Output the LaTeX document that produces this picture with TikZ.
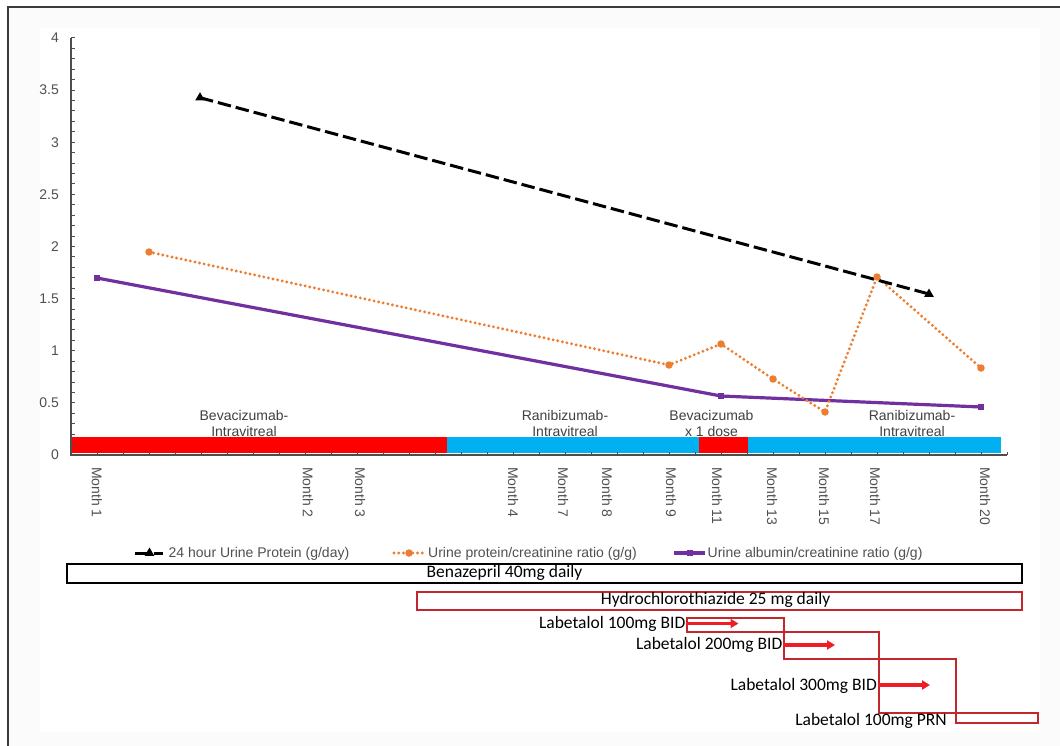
\documentclass[tikz,border=0pt]{standalone}
\usepackage{fontspec}
\setmainfont{Liberation Sans}
\newfontfamily\medfont{Carlito}
\usetikzlibrary{shapes.geometric,arrows.meta}
\definecolor{axisgray}{HTML}{4D4D4D}
\definecolor{txtgray}{HTML}{505050}
\definecolor{lbldark}{HTML}{404040}
\definecolor{barred}{HTML}{FF0000}
\definecolor{barblue}{HTML}{00B0F0}
\definecolor{orng}{HTML}{ED7D31}
\definecolor{purp}{HTML}{7030A0}
\definecolor{medred}{HTML}{C1272D}
\definecolor{arrred}{HTML}{EE1C25}
\definecolor{framegray}{HTML}{3A3A3A}
\begin{document}
\begin{tikzpicture}[x=1pt,y=-1pt,
  lbl/.style={font=\fontsize{14}{16.7}\selectfont, text=txtgray, inner sep=0pt},
  barlbl/.style={font=\fontsize{14}{16.7}\selectfont, text=lbldark, align=center, inner sep=0pt},
  medtxt/.style={font=\medfont\fontsize{17.5}{20}\selectfont, text=black, inner sep=0pt},
  medbox/.style={draw=medred, line width=1.7pt, inner sep=0pt, anchor=north west},
  medarrow/.style={draw=arrred, line width=3.5pt, -{Triangle[length=8pt,width=9pt]}},
  trimk/.style={regular polygon, regular polygon sides=3, fill=black, inner sep=0pt, minimum size=11pt},
  dotmk/.style={circle, fill=orng, inner sep=0pt, minimum size=7.5pt},
  sqmk/.style={rectangle, fill=purp, inner sep=0pt, minimum size=6.5pt},
  serA/.style={draw=black, line width=3pt, dash pattern=on 13.5pt off 5pt},
  serB/.style={draw=orng, line width=3.2pt, line cap=round, dash pattern=on 0pt off 4.7pt},
  serC/.style={draw=purp, line width=3.2pt},
  axisline/.style={draw=axisgray, line width=1.4pt}
]
\useasboundingbox (0,0) rectangle (1060,746);
% background and frame
\fill[white] (0,0) rectangle (1060,746);
\fill[black!1.5] (8,7) rectangle (1060,746);
\fill[white] (40,28) rectangle (1040,732);
\draw[line width=2pt, draw=framegray] (8,746) -- (8,7) -- (1060,7);

% y axis labels
\foreach \v/\t [count=\i] in {0/0,0.5/0.5,1/1,1.5/1.5,2/2,2.5/2.5,3/3,3.5/3.5,4/4}
  \node[lbl, anchor=east] (yl\i) at (59,{455-104.25*\v}) {\t};

% bar labels (drawn before bars)
\node[barlbl] (lb1) at (244,423.5) {Bevacizumab-\\Intravitreal};
\node[barlbl] (lb2) at (565,423.5) {Ranibizumab-\\Intravitreal};
\node[barlbl] (lb3) at (711.5,423.5) {Bevacizumab\\x 1 dose};
\node[barlbl] (lb4) at (912,423.5) {Ranibizumab-\\Intravitreal};

% treatment bars
\fill[barblue] (447,437) rectangle (1001,453);
\fill[barred] (71,437) rectangle (447,453);
\fill[barred] (699,437) rectangle (748,453);

% axes
\draw[axisline] (71,38) -- (71,455) -- (1007,455);
\foreach \i in {0,...,40}
  \draw[axisline, line width=1pt] (71,{455-10.425*\i}) -- ++(4,0);
\foreach \k in {0,...,36}
  \draw[axisline, line width=1pt] ({71+26*\k},455) -- ++(0,-3);

% month labels
\foreach \x/\m in {97/1,308/2,360/3,513/4,563/7,607/8,671/9,717/11,772/13,824/15,875/17,985/20}
  \node[lbl, rotate=-90, anchor=west] (mo\m) at (\x,467) {Month \m};

% data coordinates
\coordinate (b1) at (200,97.7);
\coordinate (b2) at (929,294);
\coordinate (o1) at (149,252);
\coordinate (o2) at (669,365);
\coordinate (o3) at (721,344);
\coordinate (o4) at (773,379);
\coordinate (o5) at (825,412);
\coordinate (o6) at (877,277);
\coordinate (o7) at (981,368);
\coordinate (p1) at (97,278);
\coordinate (p2) at (721,396);
\coordinate (p3) at (981,407);

% series lines
\draw[serC] (p1) -- (p2) -- (p3);
\draw[serB] (o1) -- (o2) -- (o3) -- (o4) -- (o5) -- (o6) -- (o7);
\draw[serA] (b1) -- (b2);

% markers
\foreach \n in {p1,p2,p3} \node[sqmk] (mk\n) at (\n) {};
\foreach \n in {o1,o2,o3,o4,o5,o6,o7} \node[dotmk] (mk\n) at (\n) {};
\foreach \n in {b1,b2} \node[trimk] (mk\n) at (\n) {};

% legend
\coordinate (la1) at (135,553); \coordinate (la2) at (163,553);
\draw[serA] (la1) -- (la2);
\node[trimk] (lam) at (149.5,553) {};
\node[lbl, anchor=base west] (lat) at (168.5,557.5) {24 hour Urine Protein (g/day)};
\coordinate (lb1a) at (394,553); \coordinate (lb1b) at (424,553);
\draw[serB] (lb1a) -- (lb1b);
\node[dotmk] (lbm) at (409,553) {};
\node[lbl, anchor=base west] (lbt) at (428,557.5) {Urine protein/creatinine ratio (g/g)};
\coordinate (lc1) at (674,553); \coordinate (lc2) at (705,553);
\draw[serC] (lc1) -- (lc2);
\node[sqmk] (lcm) at (690,553) {};
\node[lbl, anchor=base west] (lct) at (707.5,557.5) {Urine albumin/creatinine ratio (g/g)};

% medication boxes
\node[draw=black, line width=2pt, inner sep=0pt, anchor=north west, minimum width=955pt, minimum height=19pt] (benaz) at (66,563) {};
\node[medtxt, anchor=base] (benazt) at (504.5,577.5) {Benazepril 40mg daily};
\node[medbox, minimum width=605pt, minimum height=18pt] (hctz) at (416,591) {};
\node[medtxt, anchor=base] (hctzt) at (715.6,604.5) {Hydrochlorothiazide 25 mg daily};

\node[medbox, minimum width=97pt, minimum height=14pt] (rA) at (686,617) {};
\node[medbox, minimum width=95pt, minimum height=27pt] (rB) at (783,631) {};
\node[medbox, minimum width=77pt, minimum height=54pt] (rC) at (878,658) {};
\node[medbox, minimum width=82pt, minimum height=10pt] (rD) at (955,712) {};

\node[medtxt, anchor=base east] (tA) at (685.5,628) {Labetalol 100mg BID};
\node[medtxt, anchor=base east] (tB) at (782.5,649.5) {Labetalol 200mg BID};
\node[medtxt, anchor=base east] (tC) at (877,690) {Labetalol 300mg BID};
\node[medtxt, anchor=base] (tD) at (871,725) {Labetalol 100mg PRN};

\coordinate (aA) at (738.5,623.5);
\coordinate (aB) at (835,645);
\coordinate (aC) at (930,685);
\draw[medarrow] (rA.west |- aA) -- (aA);
\draw[medarrow] (rB.west |- aB) -- (aB);
\draw[medarrow] (rC.west |- aC) -- (aC);
\end{tikzpicture}
\end{document}
